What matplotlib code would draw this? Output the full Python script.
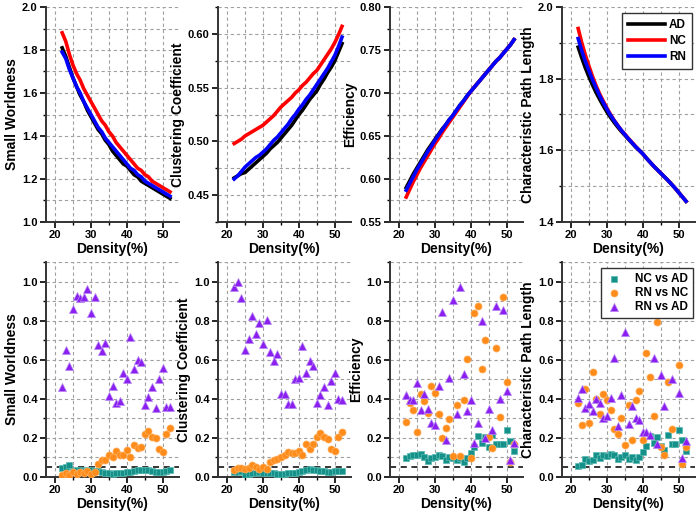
import numpy as np
import matplotlib.pyplot as plt
from matplotlib.ticker import MultipleLocator

plt.rcParams['font.family'] = ['Liberation Sans', 'DejaVu Sans']
plt.rcParams['font.weight'] = 'bold'

density = list(range(22, 53))

# top row: network metrics per group
sw_ad = [1.81, 1.77, 1.72, 1.67, 1.63, 1.59, 1.56, 1.52, 1.49, 1.46, 1.43, 1.41, 1.38, 1.36, 1.33, 1.31,
         1.29, 1.27, 1.26, 1.24, 1.22, 1.21, 1.19, 1.18, 1.17, 1.16, 1.15, 1.14, 1.13, 1.12, 1.11]
sw_nc = [1.88, 1.84, 1.78, 1.73, 1.69, 1.66, 1.62, 1.59, 1.56, 1.53, 1.50, 1.47, 1.45, 1.42, 1.40, 1.37,
         1.35, 1.33, 1.31, 1.29, 1.27, 1.25, 1.24, 1.22, 1.21, 1.19, 1.18, 1.17, 1.16, 1.15, 1.14]
sw_rn = [1.79, 1.76, 1.71, 1.67, 1.63, 1.60, 1.56, 1.53, 1.50, 1.47, 1.44, 1.42, 1.39, 1.37, 1.35, 1.33,
         1.31, 1.29, 1.27, 1.25, 1.24, 1.22, 1.21, 1.19, 1.18, 1.17, 1.16, 1.15, 1.14, 1.13, 1.12]

cc_ad = [0.466, 0.468, 0.470, 0.471, 0.474, 0.477, 0.480, 0.483, 0.486, 0.489, 0.493, 0.496, 0.499, 0.503,
         0.507, 0.511, 0.515, 0.520, 0.525, 0.529, 0.534, 0.539, 0.543, 0.547, 0.553, 0.558, 0.564, 0.569,
         0.575, 0.583, 0.591]
cc_nc = [0.498, 0.500, 0.502, 0.505, 0.507, 0.509, 0.511, 0.513, 0.515, 0.518, 0.521, 0.524, 0.528, 0.532,
         0.535, 0.538, 0.541, 0.545, 0.548, 0.552, 0.555, 0.559, 0.563, 0.566, 0.571, 0.576, 0.581, 0.586,
         0.592, 0.599, 0.607]
cc_rn = [0.465, 0.468, 0.472, 0.476, 0.479, 0.482, 0.485, 0.487, 0.490, 0.493, 0.497, 0.501, 0.504, 0.508,
         0.512, 0.516, 0.521, 0.525, 0.530, 0.534, 0.539, 0.543, 0.548, 0.553, 0.558, 0.563, 0.568, 0.574,
         0.580, 0.588, 0.597]

ef_ad = [0.590, 0.598, 0.606, 0.613, 0.620, 0.627, 0.634, 0.640, 0.646, 0.652, 0.658, 0.663, 0.669, 0.674,
         0.680, 0.686, 0.691, 0.697, 0.702, 0.707, 0.712, 0.717, 0.722, 0.727, 0.732, 0.737, 0.741, 0.746,
         0.751, 0.756, 0.762]
ef_nc = [0.579, 0.588, 0.597, 0.605, 0.613, 0.620, 0.627, 0.634, 0.641, 0.647, 0.654, 0.660, 0.666, 0.672,
         0.678, 0.684, 0.690, 0.696, 0.702, 0.707, 0.712, 0.717, 0.722, 0.727, 0.732, 0.737, 0.741, 0.746,
         0.751, 0.756, 0.762]
ef_rn = [0.587, 0.595, 0.603, 0.611, 0.618, 0.625, 0.632, 0.638, 0.645, 0.651, 0.657, 0.663, 0.669, 0.674,
         0.680, 0.686, 0.691, 0.697, 0.702, 0.707, 0.712, 0.717, 0.722, 0.727, 0.732, 0.737, 0.741, 0.746,
         0.751, 0.756, 0.762]

pl_ad = [1.888, 1.858, 1.830, 1.805, 1.782, 1.761, 1.742, 1.724, 1.707, 1.692, 1.678, 1.665, 1.653, 1.642,
         1.631, 1.620, 1.609, 1.600, 1.590, 1.578, 1.567, 1.556, 1.546, 1.536, 1.526, 1.516, 1.505, 1.494,
         1.482, 1.470, 1.458]
pl_nc = [1.940, 1.900, 1.866, 1.835, 1.806, 1.780, 1.757, 1.737, 1.718, 1.700, 1.684, 1.670, 1.656, 1.645,
         1.633, 1.622, 1.611, 1.600, 1.590, 1.578, 1.567, 1.556, 1.546, 1.536, 1.526, 1.516, 1.505, 1.494,
         1.482, 1.470, 1.458]
pl_rn = [1.912, 1.878, 1.848, 1.822, 1.797, 1.774, 1.752, 1.733, 1.715, 1.698, 1.683, 1.669, 1.656, 1.644,
         1.632, 1.621, 1.610, 1.600, 1.590, 1.578, 1.567, 1.556, 1.546, 1.536, 1.526, 1.516, 1.505, 1.494,
         1.482, 1.470, 1.458]

# bottom row: p values of group comparisons
p_sw_ncad = [0.047, 0.051, 0.060, 0.032, 0.036, 0.038, 0.033, 0.036, 0.034, 0.030, 0.029, 0.027, 0.022, 0.019,
             0.017, 0.018, 0.020, 0.023, 0.026, 0.028, 0.031, 0.034, 0.036, 0.038, 0.035, 0.031, 0.028, 0.026,
             0.028, 0.031, 0.034]
p_sw_rnnc = [0.008, 0.018, 0.010, 0.024, 0.014, 0.026, 0.018, 0.031, 0.017, 0.027, 0.066, 0.085, 0.088, 0.111,
             0.101, 0.132, 0.114, 0.113, 0.140, 0.104, 0.163, 0.147, 0.155, 0.219, 0.237, 0.205, 0.199, 0.145,
             0.129, 0.222, 0.253]
p_sw_rnad = [0.460, 0.650, 0.566, 0.860, 0.928, 0.918, 0.920, 0.962, 0.838, 0.920, 0.675, 0.644, 0.684, 0.414,
             0.465, 0.381, 0.390, 0.533, 0.500, 0.718, 0.552, 0.598, 0.586, 0.366, 0.410, 0.458, 0.352, 0.500,
             0.559, 0.359, 0.359]

p_cc_ncad = [0.025, 0.028, 0.030, 0.012, 0.015, 0.018, 0.022, 0.025, 0.020, 0.022, 0.020, 0.018, 0.015, 0.015,
             0.015, 0.018, 0.020, 0.022, 0.028, 0.030, 0.035, 0.040, 0.038, 0.035, 0.032, 0.030, 0.028, 0.028,
             0.030, 0.032, 0.033]
p_cc_rnnc = [0.034, 0.048, 0.046, 0.043, 0.048, 0.060, 0.050, 0.043, 0.051, 0.043, 0.075, 0.085, 0.094, 0.103,
             0.111, 0.128, 0.125, 0.125, 0.133, 0.115, 0.169, 0.142, 0.168, 0.205, 0.226, 0.205, 0.193, 0.142,
             0.135, 0.205, 0.231]
p_cc_rnad = [0.973, 1.000, 0.915, 0.651, 0.706, 0.826, 0.730, 0.790, 0.679, 0.802, 0.641, 0.593, 0.627, 0.426,
             0.427, 0.376, 0.373, 0.501, 0.508, 0.672, 0.530, 0.595, 0.568, 0.381, 0.422, 0.460, 0.368, 0.489,
             0.530, 0.398, 0.395]

p_ef_ncad = [0.097, 0.108, 0.111, 0.114, 0.116, 0.103, 0.082, 0.099, 0.103, 0.115, 0.106, 0.089, 0.103, 0.099,
             0.089, 0.097, 0.079, 0.097, 0.123, 0.154, 0.209, 0.174, 0.205, 0.154, 0.215, 0.167, 0.169, 0.167,
             0.238, 0.186, 0.133]
p_ef_rnnc = [0.279, 0.380, 0.342, 0.231, 0.424, 0.388, 0.330, 0.465, 0.431, 0.321, 0.197, 0.253, 0.296, 0.109,
             0.369, 0.109, 0.393, 0.605, 0.097, 0.838, 0.877, 0.552, 0.701, 0.205, 0.147, 0.660, 0.308, 0.920,
             0.484, 0.075, 0.168]
p_ef_rnad = [0.417, 0.393, 0.393, 0.479, 0.342, 0.424, 0.350, 0.274, 0.265, 0.465, 0.846, 0.191, 0.509, 0.906,
             0.320, 0.971, 0.526, 0.337, 0.393, 0.176, 0.274, 0.798, 0.198, 0.350, 0.239, 0.877, 0.400, 0.855,
             0.441, 0.085, 0.174]

p_pl_ncad = [0.056, 0.060, 0.094, 0.082, 0.085, 0.111, 0.099, 0.111, 0.108, 0.116, 0.111, 0.094, 0.104, 0.111,
             0.094, 0.104, 0.085, 0.103, 0.128, 0.157, 0.209, 0.174, 0.205, 0.159, 0.140, 0.214, 0.168, 0.168,
             0.239, 0.188, 0.133]
p_pl_rnnc = [0.379, 0.268, 0.448, 0.274, 0.538, 0.400, 0.320, 0.427, 0.393, 0.342, 0.248, 0.222, 0.303, 0.162,
             0.368, 0.191, 0.393, 0.440, 0.191, 0.632, 0.511, 0.311, 0.791, 0.154, 0.111, 0.487, 0.248, 0.920,
             0.573, 0.068, 0.154]
p_pl_rnad = [0.402, 0.450, 0.354, 0.373, 0.338, 0.398, 0.381, 0.303, 0.311, 0.405, 0.610, 0.260, 0.419, 0.740,
             0.270, 0.364, 0.303, 0.291, 0.231, 0.229, 0.214, 0.610, 0.168, 0.521, 0.364, 0.900, 0.500, 0.845,
             0.430, 0.097, 0.186]

top_data = [(sw_ad, sw_nc, sw_rn), (cc_ad, cc_nc, cc_rn), (ef_ad, ef_nc, ef_rn), (pl_ad, pl_nc, pl_rn)]
bottom_data = [(p_sw_ncad, p_sw_rnnc, p_sw_rnad), (p_cc_ncad, p_cc_rnnc, p_cc_rnad),
               (p_ef_ncad, p_ef_rnnc, p_ef_rnad), (p_pl_ncad, p_pl_rnnc, p_pl_rnad)]
ylabels = ['Small Worldness', 'Clustering Coefficient', 'Efficiency', 'Characteristic Path Length']
top_ylims = [(1.0, 2.0), (0.425, 0.625), (0.55, 0.80), (1.4, 2.0)]
top_major = [0.2, 0.05, 0.05, 0.2]

lefts = [46, 218, 390, 562]
fig = plt.figure(figsize=(7, 5.12), dpi=100)


def style_axis(ax, major, ylim):
    ax.set_xlim(17.5, 54.5)
    ax.set_ylim(*ylim)
    ax.xaxis.set_major_locator(MultipleLocator(10))
    ax.xaxis.set_minor_locator(MultipleLocator(5))
    ax.yaxis.set_major_locator(MultipleLocator(major))
    ax.yaxis.set_minor_locator(MultipleLocator(major / 2))
    for s in ['top', 'right']:
        ax.spines[s].set_visible(False)
    for s in ['left', 'bottom']:
        ax.spines[s].set_linewidth(1.4)
        ax.spines[s].set_color('#333333')
    ax.tick_params(which='major', direction='out', length=4, width=1.2, labelsize=8, pad=2)
    ax.tick_params(which='minor', direction='out', length=2, width=1)
    ax.grid(True, which='both', color='#a0a0a0', linestyle=(0, (3, 2.5)), linewidth=0.8)
    ax.set_axisbelow(True)
    ax.set_xlabel('Density(%)', fontsize=10, fontweight='bold', labelpad=1)
    for lab in ax.get_xticklabels() + ax.get_yticklabels():
        lab.set_fontweight('bold')


for i in range(4):
    ax = fig.add_axes([lefts[i] / 700, 1 - 222 / 512, 133 / 700, 215 / 512])
    ad, nc, rn = top_data[i]
    ax.plot(density, ad, color='black', lw=2.6, label='AD')
    ax.plot(density, nc, color='#ff0000', lw=2.6, label='NC')
    ax.plot(density, rn, color='#0000ff', lw=2.6, label='RN')
    style_axis(ax, top_major[i], top_ylims[i])
    ax.set_ylabel(ylabels[i], fontsize=10, fontweight='bold', labelpad=2)
    if i == 3:
        leg = ax.legend(loc='upper right', fontsize=8.5, handlelength=3.2, borderpad=0.5,
                        labelspacing=0.35, handletextpad=0.3, fancybox=False, framealpha=1,
                        bbox_to_anchor=(1.02, 1.0))
        leg.get_frame().set_edgecolor('#333333')
        for t in leg.get_texts():
            t.set_fontweight('bold')

for i in range(4):
    ax = fig.add_axes([lefts[i] / 700, 1 - 477 / 512, 133 / 700, 215 / 512])
    ncad, rnnc, rnad = bottom_data[i]
    ax.axhline(0.05, color='black', lw=1.1, linestyle=(0, (4, 3)), zorder=2)
    ax.scatter(density, ncad, marker='s', s=22, color='#16918a', edgecolors='#57b8b0', linewidths=0.5,
               label='NC vs AD', zorder=3)
    ax.scatter(density, rnnc, marker='o', s=26, color='#ff8c1a', edgecolors='#ffb060', linewidths=0.5,
               label='RN vs NC', zorder=4)
    ax.scatter(density, rnad, marker='^', s=34, color='#8a1ff0', edgecolors='#b98af5', linewidths=0.5,
               label='RN vs AD', zorder=5)
    style_axis(ax, 0.2, (0, 1.1))
    ax.set_ylabel(ylabels[i], fontsize=10, fontweight='bold', labelpad=2)
    if i == 3:
        leg = ax.legend(loc='upper right', fontsize=8.5, handlelength=1.5, borderpad=0.4,
                        labelspacing=0.2, handletextpad=1.0, fancybox=False, framealpha=1,
                        bbox_to_anchor=(1.03, 1.0))
        leg.get_frame().set_edgecolor('#333333')
        leg.set_zorder(10)
        for t in leg.get_texts():
            t.set_fontweight('bold')

fig.savefig('out.png', dpi=100)
